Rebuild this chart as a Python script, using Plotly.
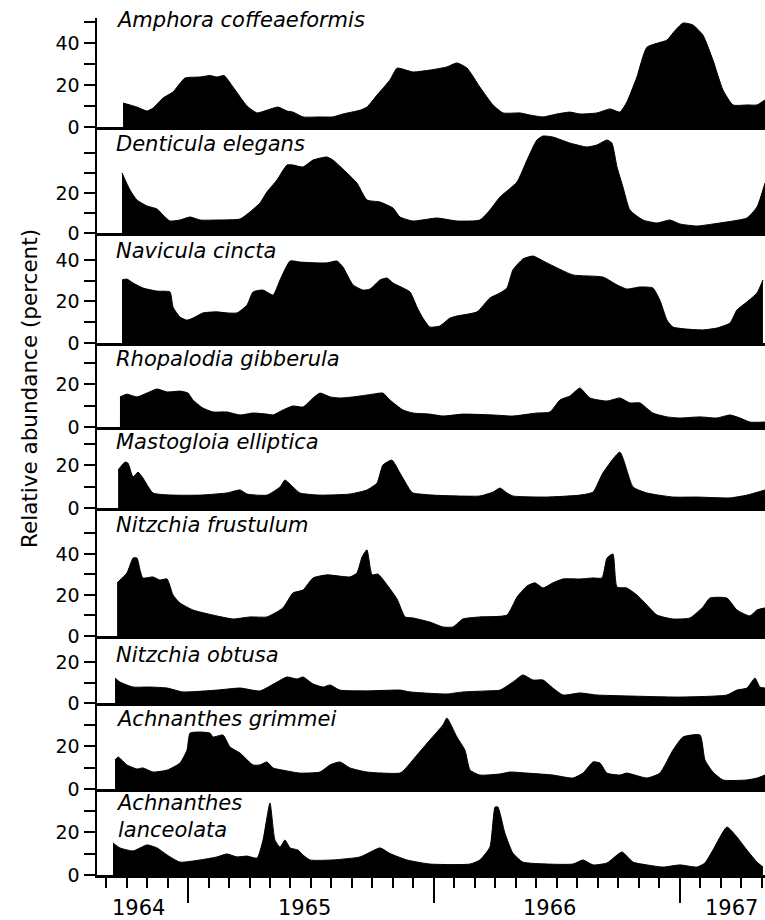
import plotly.graph_objects as go

# x values: months since 1 Jan 1964 (12 = Jan 1965, 24 = Jan 1966, 36 = Jan 1967)
species = ["Amphora coffeaeformis", "Denticula elegans", "Navicula cincta",
           "Rhopalodia gibberula", "Mastogloia elliptica", "Nitzchia frustulum",
           "Nitzchia obtusa", "Achnanthes grimmei", "Achnanthes<br>lanceolata"]

amphora_x = [8.83, 9.17, 9.51, 10.0, 10.29, 10.78, 11.27, 11.85, 12.59, 13.07, 13.41, 13.76, 14.2, 14.88,
             15.37, 15.85, 16.39, 16.83, 17.12, 17.61, 18.44, 19.07, 19.56, 20.39, 20.73, 21.22, 21.85,
             22.2, 22.98, 23.8, 24.63, 25.12, 25.61, 26.24, 26.88, 27.37, 28.2, 28.68, 29.32, 30.0, 30.63,
             31.12, 31.95, 32.59, 33.07, 33.41, 33.9, 34.39, 35.37, 35.66, 36.15, 36.63, 37.12, 37.61,
             38.1, 38.59, 39.27, 39.76, 40.15]
amphora_y = [11.4, 10.5, 9.5, 7.6, 9, 13.8, 16.7, 23.3, 23.8, 24.5, 23.8, 24.5, 19, 10,
             6.7, 8, 9.5, 7.6, 7.1, 4.8, 4.8, 4.8, 6.2, 8, 9.5, 15.2, 22.4,
             28, 26.2, 27.1, 28.6, 30.5, 28.1, 19, 10.5, 6.7, 6.7, 5.7, 4.8, 6.2, 7.1,
             6.2, 6.7, 8.6, 7.1, 11.9, 23.8, 38, 41.4, 44.8, 49.5, 48.6, 43.8, 31.9,
             17.6, 10.5, 10.5, 10.5, 12.9]

denticula_x = [8.78, 9.17, 9.51, 10.0, 10.49, 10.78, 11.12, 11.61, 12.1, 12.59, 13.41, 14.54, 15.02,
               15.51, 15.85, 16.34, 16.83, 17.12, 17.61, 18.1, 18.78, 19.07, 19.76, 20.24, 20.73,
               21.37, 22.0, 22.34, 22.98, 24.15, 25.12, 26.24, 26.73, 27.22, 28.05, 28.54, 29.02,
               29.32, 29.8, 30.63, 31.46, 31.95, 32.44, 32.68, 32.93, 33.22, 33.56, 34.2, 34.88,
               35.51, 36.0, 36.83, 37.61, 38.59, 39.27, 39.76, 40.15]
denticula_y = [30, 21.5, 16.5, 13.5, 12, 9, 6, 6.5, 8, 6.5, 6.5, 7, 10.5,
               15, 20.5, 26.5, 34, 34, 33, 36.5, 38, 36.5, 30, 25, 16.5,
               15.5, 12.5, 8, 6, 7.5, 6, 6.5, 11.5, 18, 25.5, 36.5, 46.5,
               48.5, 48, 45, 43, 44, 46.5, 45, 33, 23, 11.5, 6.5, 5,
               6.5, 4.5, 3.5, 4.5, 6, 7.5, 13, 25]

navicula_x = [8.78, 9.02, 9.32, 9.8, 10.49, 11.12, 11.27, 11.61, 11.95, 12.24, 12.73, 13.41, 13.9,
              14.39, 14.88, 15.17, 15.66, 16.15, 16.49, 16.98, 17.46, 18.29, 18.78, 19.27, 19.56,
              20.05, 20.54, 20.88, 21.37, 21.71, 22.0, 22.83, 23.17, 23.46, 23.8, 24.29, 24.78,
              25.12, 26.1, 26.73, 27.22, 27.56, 27.85, 28.34, 28.83, 29.51, 30.78, 32.24, 32.93,
              33.41, 34.05, 34.68, 35.02, 35.37, 35.66, 36.34, 37.12, 37.8, 38.44, 38.78, 39.27,
              39.76, 40.05]
navicula_y = [30.4, 30.8, 28.9, 26.5, 25, 24.6, 17.3, 12.5, 11, 12, 14.5, 15, 14.5,
              14.5, 18.3, 24.6, 25.5, 23.1, 30.4, 39.5, 39, 38.6, 38.6, 39.5, 36.6,
              28, 25.5, 26, 30.4, 31.3, 28.9, 24.6, 17.3, 12, 7.7, 8.2, 12,
              13, 15, 21.7, 24.1, 26.5, 35.2, 40.5, 41.9, 38.6, 32.8, 31.8, 28,
              26, 27, 26.5, 20.7, 11, 7.7, 6.7, 6.3, 7.2, 9.6, 15.9, 19.8,
              24.1, 30.4]

rhopalodia_x = [8.68, 9.02, 9.51, 10.0, 10.49, 10.98, 11.61, 12.0, 12.24, 12.73, 13.22, 13.9, 14.54,
                15.17, 15.85, 16.15, 16.63, 17.12, 17.61, 18.1, 18.44, 18.93, 19.41, 20.05, 20.73,
                21.02, 21.51, 21.85, 22.49, 22.98, 23.8, 24.44, 25.41, 26.88, 27.85, 29.02, 29.66,
                30.15, 30.63, 31.12, 31.61, 32.44, 33.07, 33.56, 34.05, 34.68, 35.37, 36.0, 36.98,
                37.8, 38.44, 38.93, 39.41, 40.15]
rhopalodia_y = [14, 15.3, 14, 15.8, 17.7, 16.3, 16.7, 15.8, 12.6, 8.8, 7, 7, 5.6,
                6.5, 6, 5.6, 7.9, 9.8, 9.3, 13.5, 15.8, 14, 13.5, 14, 14.9,
                15.3, 15.8, 12.6, 7.9, 6.5, 6, 5.1, 6, 5.6, 5.1, 6.5, 7,
                12.6, 14.4, 18.1, 13.5, 12.1, 13.5, 11.2, 11.2, 6.5, 4.7, 4.2, 4.7,
                4.2, 5.6, 4.2, 2.3, 2.3]

mastogloia_x = [8.59, 8.93, 9.07, 9.32, 9.56, 9.8, 10.29, 11.27, 12.59, 13.9, 14.54, 14.88, 15.85,
                16.49, 16.73, 17.12, 17.46, 18.44, 19.9, 20.73, 21.22, 21.51, 21.95, 22.34, 22.83,
                22.98, 23.95, 26.24, 26.88, 27.22, 27.56, 27.85, 29.51, 31.12, 31.76, 32.24, 33.07,
                33.71, 34.39, 35.66, 36.83, 38.44, 39.27, 40.15]
mastogloia_y = [17.7, 21.4, 20.9, 14.4, 16.7, 14, 7, 6, 6, 7, 8.4, 6.5, 6,
                9.8, 13, 9.8, 7, 6, 6.5, 8.4, 11.6, 20, 22.3, 16.3, 8.4,
                7, 6, 5.6, 7.4, 9.3, 7, 5.6, 5.1, 6, 7.4, 16.3, 26,
                9.8, 7, 5.1, 5.1, 4.7, 6, 8.4]

frustulum_x = [8.54, 8.68, 9.02, 9.32, 9.51, 9.66, 9.8, 10.29, 10.63, 10.98, 11.27, 11.61, 12.24,
               13.22, 14.2, 15.02, 15.85, 16.63, 17.12, 17.61, 18.1, 18.78, 19.9, 20.24, 20.49,
               20.73, 20.98, 21.27, 21.71, 22.2, 22.59, 22.98, 23.8, 24.44, 24.93, 25.41, 26.24,
               27.56, 28.05, 28.54, 28.93, 29.32, 29.8, 30.29, 31.12, 31.76, 32.2, 32.44, 32.73,
               32.93, 33.41, 33.9, 34.39, 34.88, 35.66, 36.49, 37.12, 37.46, 38.29, 38.78, 39.41,
               39.76, 40.15]
frustulum_y = [25.9, 27.3, 30.7, 38, 38, 32.2, 28.3, 28.8, 27.3, 27.8, 20, 16.1, 12.7,
               10.2, 8.3, 9.3, 9.3, 13.7, 21, 22.4, 28.3, 29.8, 28.8, 30.7, 38.5,
               42, 29.8, 30.2, 25, 18, 9.3, 8.8, 6.8, 4.4, 4.4, 8.3, 9.3,
               10.2, 19, 24.4, 25.9, 23.4, 25.9, 27.8, 27.8, 28.3, 28.3, 38, 40,
               23.9, 23.4, 20, 15.1, 10.2, 8.3, 8.8, 14.1, 18.5, 18.5, 12.7, 9.8,
               12.7, 13.7]

obtusa_x = [8.44, 8.68, 9.32, 10.15, 10.98, 11.76, 13.41, 14.54, 15.51, 16.34, 16.83, 17.32, 17.61,
            18.1, 18.59, 18.93, 19.41, 20.73, 22.34, 22.83, 24.63, 25.41, 26.59, 27.22, 27.85,
            28.34, 28.83, 29.32, 29.8, 30.29, 31.12, 31.95, 33.56, 36.0, 38.29, 38.78, 39.27,
            39.66, 39.9, 40.15]
obtusa_y = [12.2, 10.2, 7.8, 7.8, 7.3, 5.4, 6.3, 7.3, 5.9, 10.2, 12.7, 11.7, 12.7,
            9.3, 7.8, 8.8, 6.3, 5.9, 6.3, 5.4, 4.4, 5.4, 5.9, 6.3, 10.2,
            13.7, 11.2, 11.2, 7.3, 3.9, 4.9, 3.9, 3.4, 2.9, 3.9, 6.3, 7.3,
            12.2, 7.8, 7.3]

grimmei_x = [8.44, 8.59, 9.02, 9.51, 9.8, 10.29, 10.98, 11.61, 11.95, 12.1, 12.59, 13.07, 13.22,
             13.71, 14.05, 14.54, 15.17, 15.51, 15.85, 16.15, 16.83, 17.46, 18.44, 18.93, 19.41,
             19.9, 20.73, 22.34, 22.59, 23.17, 23.8, 24.44, 24.63, 25.12, 25.51, 25.76, 26.24,
             27.22, 27.71, 28.54, 29.8, 30.78, 31.27, 31.76, 32.1, 32.44, 33.07, 33.41, 34.39,
             35.02, 35.66, 36.15, 36.98, 37.22, 37.61, 38.1, 39.27, 39.76, 40.15]
grimmei_y = [13.5, 14.9, 11.2, 9.3, 9.8, 7.9, 8.8, 12.1, 18.1, 26, 26.5, 26, 24.2,
             25.1, 19.5, 16.7, 11.2, 11.2, 12.6, 9.8, 8.4, 7.4, 7.9, 11.2, 12.6,
             9.8, 7.9, 7.4, 9.3, 15.8, 22.8, 29.8, 33, 24.2, 18.1, 8.8, 6.5,
             7, 7.9, 7.4, 6.5, 5.1, 7.4, 12.6, 12.1, 7.4, 6.5, 7.4, 5.1,
             7.4, 18.1, 24.2, 25.1, 13.5, 7.9, 4.2, 4.2, 5.1, 6.5]

lanceolata_x = [8.34, 8.68, 9.32, 10.0, 10.49, 10.98, 11.61, 12.59, 13.41, 13.9, 14.39, 14.88, 15.37,
                15.66, 16.0, 16.24, 16.49, 16.73, 16.98, 17.37, 17.61, 17.95, 19.07, 20.39, 21.37,
                21.85, 22.68, 23.8, 25.76, 26.24, 26.73, 26.98, 27.12, 27.46, 27.85, 28.34, 29.51,
                30.78, 31.27, 31.76, 32.44, 33.17, 33.71, 34.39, 35.17, 36.0, 36.83, 37.22, 37.61,
                38.29, 38.78, 39.27, 39.76, 40.05]
lanceolata_y = [14.9, 12.6, 11.2, 14, 12.6, 9.3, 6, 7, 8.4, 9.8, 8.4, 8.8, 7.9,
                16.3, 33.5, 16.3, 13, 16.3, 12.6, 11.6, 9.3, 7, 7, 8.4, 12.6,
                10, 7, 5.1, 5.1, 7, 13, 31.6, 31.6, 19.5, 10.2, 6, 5.1,
                5.1, 7, 4.7, 5.6, 10.7, 6, 4.7, 3.7, 4.7, 3.7, 5.6, 11.6,
                22.3, 17.7, 11.6, 6, 3.7]

series_x = [amphora_x, denticula_x, navicula_x, rhopalodia_x, mastogloia_x,
            frustulum_x, obtusa_x, grimmei_x, lanceolata_x]
series_y = [amphora_y, denticula_y, navicula_y, rhopalodia_y, mastogloia_y,
            frustulum_y, obtusa_y, grimmei_y, lanceolata_y]

y_max = [51.9, 53, 53, 39.1, 37.7, 62.4, 32.7, 40, 40]
y_tickvals = [[0, 10, 20, 30, 40, 50], [0, 10, 20, 30, 40], [0, 10, 20, 30, 40],
              [0, 10, 20, 30], [0, 10, 20, 30], [0, 10, 20, 30, 40, 50],
              [0, 10, 20], [0, 10, 20, 30], [0, 10, 20, 30]]
y_labelled = [[0, 20, 40], [0, 20], [0, 20, 40], [0, 20], [0, 20], [0, 20, 40],
              [0, 20], [0, 20], [0, 20]]

year_labels = ["1964", "1965", "1966", "1967"]
year_label_pos = [9.6, 17.66, 29.66, 38.5]
x_range = [7.56, 40.15]

# ---- layout geometry (page pixels, page body margin removed below) ----
W, H = 765, 920
ML, MT, MB, MR = 97, 18, H - 875, 0
PH = H - MT - MB
PW = W - ML - MR
zero_px = [127, 233, 343, 427, 508, 636, 703, 789, 875]
top_px = [18, 127, 233, 343, 427, 508, 636, 703, 789]
label_cy = [20, 144.5, 251, 359.5, 441.5, 524.5, 654.5, 718.5, 816]


def fy(py):
    """page y pixel -> paper fraction"""
    return (875 - py) / PH


def fx(px):
    """page x pixel -> paper fraction"""
    return (px - ML) / PW


FONT = "DejaVu Sans"
fig = go.Figure()
layout = dict(
    width=W, height=H, margin=dict(l=ML, r=MR, t=MT, b=MB, pad=0),
    paper_bgcolor="white", plot_bgcolor="white", showlegend=False,
    font=dict(family=FONT, color="black", size=19),
)
annotations = []
for i in range(9):
    n = i + 1
    xa = "x" if n == 1 else f"x{n}"
    ya = "y" if n == 1 else f"y{n}"
    fig.add_trace(go.Scatter(
        x=series_x[i], y=series_y[i], mode="lines", fill="tozeroy",
        fillcolor="black", line=dict(color="black", width=1, shape="spline", smoothing=0.5),
        xaxis=xa, yaxis=ya, hoverinfo="skip"))
    xkey = "xaxis" if n == 1 else f"xaxis{n}"
    ykey = "yaxis" if n == 1 else f"yaxis{n}"
    xax = dict(domain=[0, 1], anchor=ya, range=x_range, showgrid=False, zeroline=False,
               showline=True, linecolor="black", linewidth=3, showticklabels=False,
               ticks="", fixedrange=True)
    if n == 9:
        xax.update(tickmode="linear", tick0=0, dtick=12, ticks="outside", ticklen=25,
                   tickwidth=2, tickcolor="black",
                   minor=dict(tickmode="linear", tick0=0, dtick=1, ticks="outside",
                              ticklen=10, tickwidth=2, tickcolor="black"))
    layout[xkey] = xax
    layout[ykey] = dict(
        domain=[fy(zero_px[i]), fy(top_px[i])], anchor=xa, range=[0, y_max[i]],
        showgrid=False, zeroline=False, showline=True, linecolor="black", linewidth=2.5,
        tickmode="array", tickvals=y_tickvals[i],
        ticktext=[str(v) if v in y_labelled[i] else "" for v in y_tickvals[i]],
        ticks="outside", ticklen=11, tickwidth=2, tickcolor="black",
        tickfont=dict(family=FONT, size=19, color="black"), fixedrange=True)
    annotations.append(dict(
        text=f"<i>{species[i]}</i>", xref="paper", yref="paper",
        x=fx(114), y=fy(label_cy[i]), xanchor="left", yanchor="middle", align="left",
        showarrow=False, font=dict(family=FONT, size=21, color="black")))

for lab, pos in zip(year_labels, year_label_pos):
    annotations.append(dict(text=lab, xref="x9", yref="paper", x=pos, y=fy(908),
                            xanchor="center", yanchor="middle", showarrow=False,
                            font=dict(family=FONT, size=21, color="black")))

annotations.append(dict(text="Relative abundance (percent)", xref="paper", yref="paper",
                        x=fx(30), y=fy(389), xanchor="center", yanchor="middle",
                        textangle=-90, showarrow=False,
                        font=dict(family=FONT, size=21.5, color="black")))
layout["annotations"] = annotations
fig.update_layout(**layout)
# remove the browser's default 8px body margin so the 765x920 figure fills the page exactly
fig.write_html("out.html",
               config={"displayModeBar": False, "staticPlot": True},
               post_script="document.body.style.margin='0';"
                           "document.documentElement.style.overflow='hidden';"
                           "document.body.style.overflow='hidden';")
